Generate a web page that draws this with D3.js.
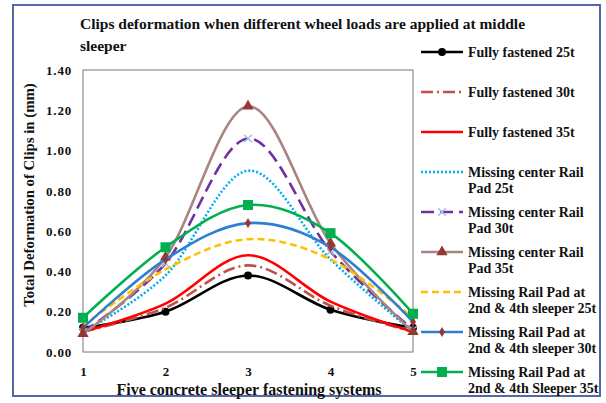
<!DOCTYPE html>
<html lang="en">
<head>
<meta charset="UTF-8" />
<style>
  body { margin: 0; background: #fff; }
  text { font-family: "Liberation Serif", "Times New Roman", serif; font-weight: bold; fill: #111; }
</style>
</head>
<body>
<svg width="606" height="403"></svg>
<script src="https://cdn.jsdelivr.net/npm/d3@7"></script>
<script>
// data
var systems = [1, 2, 3, 4, 5];
var yTicks = [0, 0.2, 0.4, 0.6, 0.8, 1.0, 1.2, 1.4];

var fully25 = [0.12, 0.20, 0.38, 0.21, 0.12];
var fully30 = [0.10, 0.22, 0.43, 0.23, 0.10];
var fully35 = [0.10, 0.24, 0.48, 0.25, 0.10];
var center25 = [0.10, 0.38, 0.90, 0.46, 0.10];
var center30 = [0.10, 0.44, 1.06, 0.50, 0.11];
var center35 = [0.09, 0.47, 1.22, 0.54, 0.10];
var pad25 = [0.13, 0.41, 0.56, 0.46, 0.17];
var pad30 = [0.12, 0.46, 0.64, 0.52, 0.15];
var pad35 = [0.17, 0.52, 0.73, 0.59, 0.19];

var seriesLabels = [
  ["Fully fastened 25t"],
  ["Fully fastened 30t"],
  ["Fully fastened 35t"],
  ["Missing center Rail", "Pad 25t"],
  ["Missing center Rail", "Pad 30t"],
  ["Missing center Rail", "Pad 35t"],
  ["Missing Rail Pad at", "2nd & 4th sleeper 25t"],
  ["Missing Rail Pad at", "2nd & 4th sleeper 30t"],
  ["Missing Rail Pad at", "2nd & 4th Sleeper 35t"]
];

var series = [
  { values: fully25, color: "#000000", dash: null, marker: "circle", mcolor: "#000000" },
  { values: fully30, color: "#c0504d", dash: "12,4,2,4", marker: null },
  { values: fully35, color: "#ff0000", dash: null, marker: null },
  { values: center25, color: "#00b0f0", dash: "2,2", marker: null },
  { values: center30, color: "#7030a0", dash: "13,6", marker: "cross", mcolor: "#9dc3e6" },
  { values: center35, color: "#a88580", dash: null, marker: "triangle", mcolor: "#953735" },
  { values: pad25, color: "#ffc000", dash: "7,4", marker: null },
  { values: pad30, color: "#2e7fd0", dash: null, marker: "diamond", mcolor: "#953735" },
  { values: pad35, color: "#00b050", dash: null, marker: "square", mcolor: "#00b050" }
];
series.forEach(function (s, i) { s.label = seriesLabels[i]; });

var svg = d3.select("svg");

// outer frame
svg.append("rect")
  .attr("x", 13).attr("y", 5).attr("width", 587).attr("height", 391)
  .attr("fill", "none").attr("stroke", "#5567a8").attr("stroke-width", 2);

var margin = { left: 83, top: 70, right: 413, bottom: 352 };

var x = d3.scalePoint().domain(systems).range([margin.left, margin.right]);
var y = d3.scaleLinear().domain([0, 1.4]).range([margin.bottom, margin.top]);

// plot area box
svg.append("rect")
  .attr("x", margin.left).attr("y", margin.top)
  .attr("width", margin.right - margin.left).attr("height", margin.bottom - margin.top)
  .attr("fill", "none").attr("stroke", "#777").attr("stroke-width", 1);

// axes
var yAxis = svg.append("g")
  .attr("transform", "translate(" + margin.left + ",0)")
  .call(d3.axisLeft(y).tickValues(yTicks).tickFormat(d3.format(".2f")).tickSize(0).tickPadding(11));
yAxis.select(".domain").remove();
yAxis.selectAll("text").style("font-size", "13px").style("letter-spacing", "0.8px")
  .style("font-family", "Liberation Serif").attr("fill", "#111");

var xAxis = svg.append("g")
  .attr("transform", "translate(0," + margin.bottom + ")")
  .call(d3.axisBottom(x).tickSize(0).tickPadding(15));
xAxis.select(".domain").remove();
xAxis.selectAll("text").style("font-size", "13px").style("font-family", "Liberation Serif").attr("fill", "#111");

// titles
svg.append("text").attr("x", 80).attr("y", 29).style("font-size", "15.5px")
  .text("Clips deformation when different wheel loads are applied at middle");
svg.append("text").attr("x", 80).attr("y", 51).style("font-size", "15.5px").text("sleeper");

svg.append("text").attr("x", 249).attr("y", 395).attr("text-anchor", "middle")
  .style("font-size", "16px").text("Five concrete sleeper fastening systems");

svg.append("text")
  .attr("transform", "translate(34,195) rotate(-90)")
  .attr("text-anchor", "middle").style("font-size", "14.8px")
  .text("Total Deformation of Clips  in (mm)");

// lines
var line = d3.line()
  .x(function (d, i) { return x(systems[i]); })
  .y(function (d) { return y(d); })
  .curve(d3.curveCatmullRom.alpha(0));

function drawMarker(g, type, cx, cy, color) {
  if (type === "circle") {
    g.append("circle").attr("cx", cx).attr("cy", cy).attr("r", 4).attr("fill", color);
  } else if (type === "square") {
    g.append("rect").attr("x", cx - 5).attr("y", cy - 5).attr("width", 10).attr("height", 10).attr("fill", color);
  } else if (type === "triangle") {
    g.append("path").attr("d", d3.symbol(d3.symbolTriangle, 55)()).attr("transform", "translate(" + cx + "," + cy + ")").attr("fill", color);
  } else if (type === "diamond") {
    g.append("path").attr("d", d3.symbol(d3.symbolDiamond, 30)()).attr("transform", "translate(" + cx + "," + cy + ")").attr("fill", color);
  } else if (type === "cross") {
    g.append("path").attr("d", d3.symbol(d3.symbolX, 40)()).attr("transform", "translate(" + cx + "," + cy + ")")
      .attr("fill", "none").attr("stroke", color).attr("stroke-width", 1.5);
  }
}

var plot = svg.append("g");
series.forEach(function (s) {
  plot.append("path")
    .datum(s.values)
    .attr("d", line)
    .attr("fill", "none")
    .attr("stroke", s.color)
    .attr("stroke-width", 2.6)
    .attr("stroke-dasharray", s.dash);
  if (s.marker) {
    s.values.forEach(function (v, i) {
      drawMarker(plot, s.marker, x(systems[i]), y(v), s.mcolor);
    });
  }
});

// legend
var legend = svg.append("g");
series.forEach(function (s, i) {
  var ly = 52 + i * 40;
  var g = legend.append("g");
  g.append("line").attr("x1", 421).attr("x2", 463).attr("y1", ly).attr("y2", ly)
    .attr("stroke", s.color).attr("stroke-width", 2.6).attr("stroke-dasharray", s.dash);
  if (s.marker) drawMarker(g, s.marker, 442, ly, s.mcolor);
  s.label.forEach(function (t, j) {
    g.append("text").attr("x", 468).attr("y", ly + 5 + j * 16)
      .style("font-size", "14px").text(t);
  });
});
</script>
</body>
</html>
